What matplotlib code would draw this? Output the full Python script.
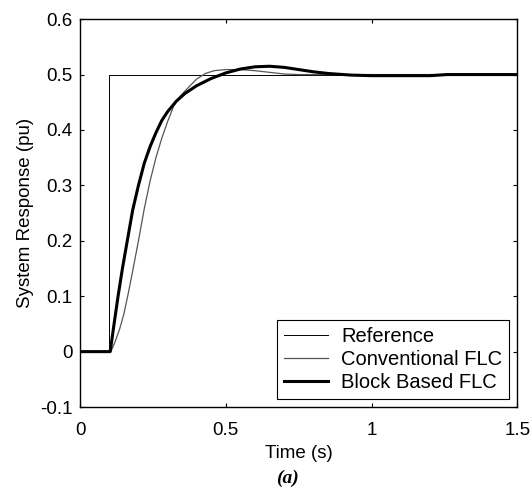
import numpy as np
import matplotlib.pyplot as plt

plt.rcParams.update({'font.family': 'Liberation Sans', 'font.size': 13.5})

# reference step
t_ref = [0.0, 0.1, 0.1, 1.5]
y_ref = [0.0, 0.0, 0.5, 0.5]

# conventional FLC
t_conv = [0.0, 0.1, 0.105, 0.12, 0.135, 0.15, 0.165, 0.18, 0.2, 0.22, 0.24, 0.26,
          0.28, 0.30, 0.32, 0.34, 0.37, 0.40, 0.43, 0.46, 0.5, 0.55, 0.6, 0.65,
          0.7, 0.75, 1.5]
y_conv = [0.0, 0.0, 0.0, 0.018, 0.04, 0.068, 0.105, 0.145, 0.2, 0.258, 0.308, 0.35,
          0.385, 0.415, 0.442, 0.459, 0.476, 0.492, 0.502, 0.507, 0.509, 0.509,
          0.507, 0.504, 0.501, 0.5, 0.5]

# block based FLC
t_blk = [0.0, 0.1, 0.103, 0.115, 0.13, 0.145, 0.16, 0.18, 0.2, 0.22, 0.24, 0.26,
         0.28, 0.30, 0.33, 0.36, 0.40, 0.45, 0.50, 0.55, 0.6, 0.65, 0.7, 0.75,
         0.8, 0.85, 0.93, 1.0, 1.1, 1.2, 1.26, 1.5]
y_blk = [0.0, 0.0, 0.0, 0.045, 0.10, 0.15, 0.195, 0.255, 0.30, 0.34, 0.37, 0.395,
         0.417, 0.433, 0.452, 0.466, 0.48, 0.493, 0.503, 0.510, 0.514, 0.515,
         0.513, 0.509, 0.505, 0.502, 0.499, 0.498, 0.498, 0.498, 0.5, 0.5]

xticks = [0, 0.5, 1, 1.5]
xlabels = ['0', '0.5', '1', '1.5']
yticks = [-0.1, 0, 0.1, 0.2, 0.3, 0.4, 0.5, 0.6]
ylabels = ['-0.1', '0', '0.1', '0.2', '0.3', '0.4', '0.5', '0.6']

fig = plt.figure(figsize=(5.31, 4.91), dpi=100)
ax = fig.add_axes([0.151, 0.171, 0.823, 0.790])

ax.plot(t_ref, y_ref, color='black', lw=0.7, label='Reference')
ax.plot(t_conv, y_conv, color='#555555', lw=0.9, label='Conventional FLC')
ax.plot(t_blk, y_blk, color='black', lw=2.2, label='Block Based FLC')

ax.set_xlim(0, 1.5)
ax.set_ylim(-0.1, 0.6)
ax.set_xticks(xticks)
ax.set_xticklabels(xlabels)
ax.set_yticks(yticks)
ax.set_yticklabels(ylabels)
ax.tick_params(direction='in', length=3, width=0.8, top=True, right=True)
ax.tick_params(axis='x', pad=11)
ax.tick_params(axis='y', pad=5.5)
for s in ax.spines.values():
    s.set_linewidth(1.0)

ax.set_xlabel('Time (s)', labelpad=4)
ax.set_ylabel('System Response (pu)', labelpad=4)

leg = ax.legend(loc='lower right', fancybox=False, edgecolor='black',
                framealpha=1, borderpad=0.35, handlelength=2.2,
                handletextpad=0.65, labelspacing=0.2, borderaxespad=0.4,
                fontsize=14.5)
leg.get_frame().set_linewidth(0.8)

fig.text(0.542, 0.025, '(a)', ha='center', va='center', family='Liberation Serif',
         style='italic', weight='bold', fontsize=14)

fig.savefig('out.png', dpi=100)
